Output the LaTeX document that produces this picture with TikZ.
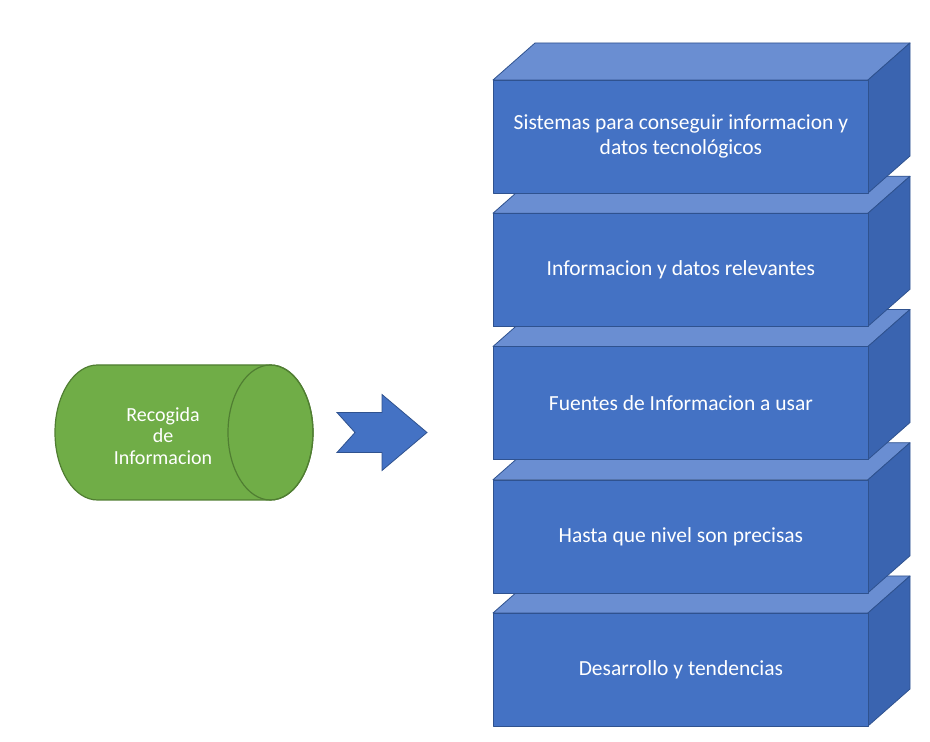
\documentclass[tikz,border=0pt]{standalone}
\usepackage{fontspec}
\setmainfont{Carlito}
\definecolor{boxfront}{HTML}{4472C4}
\definecolor{boxtop}{HTML}{6A8ED2}
\definecolor{boxside}{HTML}{3A64B0}
\definecolor{boxedge}{HTML}{2F528F}
\definecolor{drumfill}{HTML}{70AD47}
\definecolor{drumedge}{HTML}{507E32}
\tikzset{
  faceline/.style={draw=boxedge, line width=0.8pt, line join=round},
  topface/.style={faceline, fill=boxtop},
  sideface/.style={faceline, fill=boxside},
  frontface/.style={faceline, fill=boxfront, text=white, align=center,
    inner sep=0pt, minimum width=375pt, minimum height=113pt, anchor=north west,
    font=\fontsize{21.5}{25}\selectfont},
  drum/.style={draw=drumedge, line width=1.2pt, fill=drumfill},
  bigarrow/.style={draw=boxedge, line width=0.8pt, fill=boxfront, line join=miter}
}
\begin{document}
\begin{tikzpicture}[x=1pt,y=1pt]
\useasboundingbox (0,0) rectangle (930,742);
\fill[white] (0,0) rectangle (930,742);

% stacked blocks, drawn from the bottom up so each one overlaps the one below
\foreach \i/\txt in {5/{Desarrollo y tendencias},
                     4/{Hasta que nivel son precisas},
                     3/{Fuentes de Informacion a usar},
                     2/{Informacion y datos relevantes},
                     1/{Sistemas para conseguir informacion y\\datos tecnológicos}} {
  \pgfmathsetmacro\yt{662-133.25*(\i-1)}
  \pgfmathsetmacro\yb{\yt-113}
  \path[topface] (493,\yt) -- (535,\yt+37) -- (910,\yt+37) -- (868,\yt) -- cycle;
  \path[sideface] (868,\yt) -- (910,\yt+37) -- (910,\yb+37) -- (868,\yb) -- cycle;
  \node[frontface] (b\i) at (493,\yt) {\txt};
}

% green drum
\path[drum] (97.5,377) -- (270.5,377)
  arc[start angle=90, end angle=-90, x radius=42.5, y radius=67.5]
  -- (97.5,242)
  arc[start angle=270, end angle=90, x radius=42.5, y radius=67.5] -- cycle;
\draw[drumedge, line width=1.2pt] (270.5,309.5) ellipse[x radius=42.5, y radius=67.5];
\node[text=white, align=center, font=\fontsize{20}{21.5}\selectfont] (drumtext) at (163,306) {Recogida\\de\\Informacion};

% notched arrow
\coordinate (tip) at (427,309.5);
\path[bigarrow] (337,329.5) -- (382,329.5) -- (382,347.5) -- (tip)
  -- (382,271.5) -- (382,289.5) -- (337,289.5) -- (355,309.5) -- cycle;
\end{tikzpicture}
\end{document}
